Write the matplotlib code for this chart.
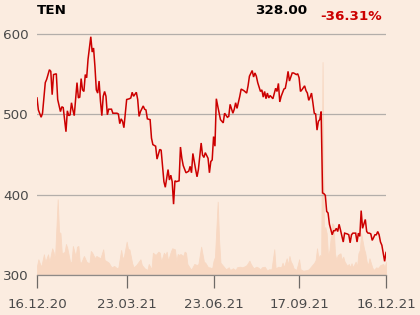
import matplotlib
matplotlib.use("Agg")
import matplotlib.pyplot as plt

# ---- data (trading-day index, close price) ----
price_day = [0, 1, 3, 4, 6, 7, 9, 10, 11, 12, 14, 15, 17, 18, 19, 20, 21, 22, 23, 24,
             25, 26, 27, 29, 30, 31, 32, 33, 34, 35, 36, 37, 39, 40, 41, 42, 43, 44, 45, 46,
             47, 48, 49, 50, 51, 52, 54, 55, 58, 59, 60, 61, 62, 63, 65, 67, 68, 69, 70, 72,
             73, 74, 75, 77, 78, 79, 80, 82, 83, 84, 86, 87, 89, 90, 91, 92, 93, 94, 95, 96,
             97, 98, 99, 100, 101, 103, 104, 105, 106, 108, 110, 111, 112, 113, 115, 116, 117, 119, 120, 121,
             122, 124, 125, 126, 127, 128, 129, 130, 131, 133, 135, 136, 138, 139, 140, 142, 143, 144, 145, 147,
             148, 150, 152, 153, 154, 156, 157, 158, 159, 160, 162, 163, 164, 165, 166, 167, 168, 169, 170, 171,
             173, 174, 175, 176, 177, 179, 180, 181, 182, 183, 185, 186, 188, 189, 190, 191, 192, 194, 195, 196,
             197, 198, 199, 200, 201, 202, 203, 204, 205, 206, 207, 208, 209, 210, 211, 212, 214, 215, 216, 217,
             218, 219, 220, 222, 223, 225, 226, 227, 228, 229, 231, 232, 233, 234, 235, 236, 238, 239, 240, 241,
             242, 243, 245, 246, 247, 248, 249, 250, 252, 253]
price = [520, 505, 496, 501, 539, 543, 555, 553, 524, 549, 550, 518, 503, 509, 508, 493, 478, 504, 498, 499,
         514, 505, 498, 539, 520, 521, 544, 530, 528, 549, 545, 568, 596, 577, 582, 559, 530, 526, 541, 516,
         498, 522, 528, 522, 499, 506, 506, 501, 501, 500, 488, 494, 491, 483, 518, 519, 520, 527, 522, 527,
         518, 497, 503, 510, 506, 505, 494, 493, 470, 462, 460, 444, 456, 455, 435, 416, 409, 420, 431, 418,
         424, 416, 388, 417, 416, 417, 459, 445, 436, 427, 429, 435, 427, 451, 431, 422, 431, 464, 449, 446,
         452, 445, 427, 441, 443, 472, 460, 519, 510, 493, 489, 501, 496, 497, 512, 501, 506, 514, 507, 522,
         531, 529, 526, 535, 547, 554, 546, 551, 547, 539, 528, 530, 521, 528, 519, 526, 520, 523, 521, 519,
         532, 528, 538, 515, 522, 531, 532, 541, 553, 541, 551, 551, 549, 550, 545, 528, 530, 535, 529, 526,
         517, 521, 526, 514, 501, 500, 480, 491, 493, 503, 402, 401, 399, 379, 377, 363, 350, 355, 355, 358,
         354, 363, 356, 341, 352, 351, 350, 340, 350, 352, 352, 341, 352, 348, 380, 358, 369, 354, 352, 352,
         351, 343, 350, 350, 354, 350, 341, 337, 317, 328]

# volume (thousand shares, approximate)
vol_day = [0, 1, 3, 5, 6, 8, 9, 11, 12, 13,
           15, 16, 17, 18, 20, 21, 22, 24, 25, 26,
           28, 29, 30, 31, 32, 34, 36, 38, 39, 40,
           42, 43, 44, 46, 48, 49, 51, 52, 54, 56,
           58, 59, 61, 62, 63, 65, 66, 67, 69, 70,
           72, 75, 76, 78, 80, 81, 83, 84, 86, 88,
           89, 90, 92, 93, 94, 95, 97, 98, 100, 101,
           102, 103, 104, 106, 107, 108, 109, 111, 112, 114,
           116, 117, 119, 121, 122, 124, 125, 127, 128, 129,
           131, 132, 133, 135, 137, 139, 140, 142, 144, 145,
           147, 149, 151, 152, 154, 155, 157, 159, 160, 162,
           163, 165, 167, 168, 170, 172, 173, 175, 177, 178,
           179, 181, 182, 183, 184, 185, 186, 188, 189, 190,
           191, 193, 196, 197, 199, 201, 202, 203, 204, 205,
           206, 207, 208, 209, 210, 211, 212, 214, 215, 216,
           217, 218, 220, 221, 222, 223, 225, 226, 227, 228,
           229, 231, 232, 233, 234, 235, 237, 238, 239, 240,
           241, 243, 244, 246, 247, 249, 251, 252, 253]
volume = [90, 157, 80, 207, 130, 207, 130, 267, 230, 150,
          757, 430, 420, 217, 230, 310, 267, 130, 130, 290,
          183, 283, 290, 130, 123, 190, 130, 117, 240, 223,
          167, 190, 183, 167, 257, 150, 133, 123, 77, 90,
          67, 77, 250, 167, 183, 333, 257, 257, 117, 77,
          100, 157, 100, 67, 50, 110, 57, 223, 200, 233,
          223, 133, 223, 200, 233, 143, 233, 267, 257, 133,
          210, 200, 210, 190, 233, 223, 110, 67, 57, 110,
          100, 110, 283, 133, 123, 77, 77, 67, 143, 180,
          733, 350, 123, 90, 57, 77, 50, 67, 50, 77,
          83, 77, 90, 100, 143, 110, 67, 83, 77, 57,
          77, 83, 43, 57, 57, 257, 67, 83, 77, 123,
          77, 167, 100, 190, 133, 110, 67, 50, 100, 157,
          57, 43, 50, 57, 90, 123, 150, 267, 167, 200,
          180, 2130, 450, 480, 417, 183, 250, 517, 500, 217,
          150, 200, 217, 150, 183, 133, 90, 110, 77, 117,
          77, 133, 83, 217, 250, 417, 267, 217, 133, 100,
          167, 77, 50, 77, 67, 100, 110, 77, 133]

x_ticks = [0, 65, 128, 190, 253]
x_labels = ["16.12.20", "23.03.21", "23.06.21", "17.09.21", "16.12.21"]
y_ticks = [300, 400, 500, 600]

ticker = "TEN"
last_price = "328.00"
change = "-36.31%"

BG = "#FBECE0"
RED = "#CC0000"
VOL = "#F8D8C2"
GRID = "#B3AEAA"
TXT = "#4A4A4A"

fig = plt.figure(figsize=(4.2, 3.15), dpi=100, facecolor=BG)
ax_v = fig.add_axes([37 / 420, 40 / 315, 349 / 420, 255 / 315])
ax = fig.add_axes([37 / 420, 40 / 315, 349 / 420, 255 / 315], sharex=ax_v)
ax_v.set_facecolor(BG)
ax.patch.set_visible(False)

# volume
ax_v.fill_between(vol_day, 0, volume, color=VOL, linewidth=0.6, edgecolor=VOL)
ax_v.set_ylim(0, 2550)
ax_v.axis("off")

# price
ax.plot(price_day, price, color=RED, linewidth=1.1, solid_joinstyle="miter")
ax.set_ylim(300, 616.8)
ax.set_xlim(0, 253)
ax.set_yticks(y_ticks)
ax.set_yticklabels([str(v) for v in y_ticks])
ax.set_xticks(x_ticks)
ax.set_xticklabels(x_labels)
ax.yaxis.grid(True, color=GRID, linewidth=0.9)
for s in ["top", "right", "left"]:
    ax.spines[s].set_visible(False)
ax.spines["bottom"].set_color("#8E8A87")
ax.spines["bottom"].set_linewidth(0.9)
ax.tick_params(axis="y", length=0, pad=5.8, labelsize=9.7, labelcolor=TXT)
ax.tick_params(axis="x", length=9.4, width=0.9, color="#6E6A67", pad=7,
               labelsize=9.6, labelcolor=TXT)

fig.text(37 / 420, 1 - 10 / 315, ticker, fontsize=9.7, fontweight="bold",
         color="black", ha="left", va="center")
fig.text(307 / 420, 1 - 10 / 315, last_price, fontsize=9.7, fontweight="bold",
         color="black", ha="right", va="center")
fig.text(382 / 420, 1 - 16.5 / 315, change, fontsize=9.7, fontweight="bold",
         color=RED, ha="right", va="center")

fig.savefig("out.png", dpi=100, facecolor=BG)
